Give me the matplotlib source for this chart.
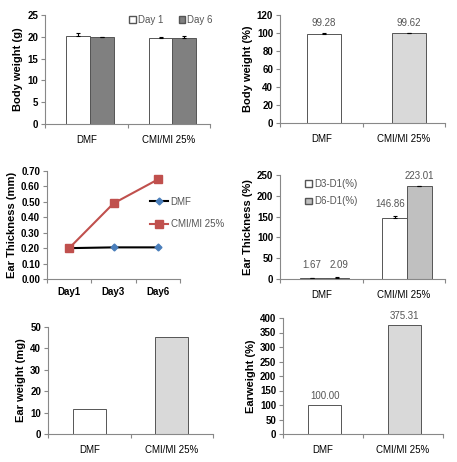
import matplotlib
matplotlib.use('Agg')
import matplotlib.pyplot as plt
import numpy as np
from matplotlib.patches import Patch
from matplotlib.lines import Line2D

plt.rcParams['font.family'] = ['Liberation Sans', 'DejaVu Sans']

# data
groups = ['DMF', 'CMI/MI 25%']
bw_day1 = [20.2, 19.8]
bw_day1_err = [0.6, 0.2]
bw_day6 = [19.9, 19.8]
bw_day6_err = [0.0, 0.4]
bw_pct = [99.28, 99.62]
bw_pct_err = [0.4, 0.0]
days = ['Day1', 'Day3', 'Day6']
et_dmf = [0.20, 0.205, 0.205]
et_cmi = [0.20, 0.49, 0.645]
et_d3 = [1.67, 146.86]
et_d3_err = [1.5, 4.0]
et_d6 = [2.09, 223.01]
et_d6_err = [3.5, 0.0]
ew_mg = [11.8, 45.5]
ew_pct = [100.00, 375.31]

W, H = 457, 462
fig = plt.figure(figsize=(W / 100, H / 100), dpi=100)


def make_ax(l, r, t, b):
    return fig.add_axes([l / W, 1 - b / H, (r - l) / W, (b - t) / H])


def style(ax, ylabel, ymax, ystep, fmt='{:.0f}', ncat=2):
    ax.set_xlim(0, ncat)
    ax.set_ylim(0, ymax)
    for s in ['top', 'right']:
        ax.spines[s].set_visible(False)
    for s in ['left', 'bottom']:
        ax.spines[s].set_color('#888888')
        ax.spines[s].set_linewidth(0.8)
    yt = np.arange(0, ymax + ystep / 2, ystep)
    ax.set_yticks(yt)
    ax.set_yticklabels([fmt.format(v) for v in yt], fontsize=7, fontweight='bold')
    ax.set_xticks(np.arange(0, ncat + 1))
    ax.set_xticklabels([])
    ax.set_xticks(np.arange(ncat) + 0.5, minor=True)
    ax.tick_params(axis='x', which='major', length=3, color='#888888', width=0.8)
    ax.tick_params(axis='x', which='minor', length=0, labelsize=7, pad=8)
    ax.tick_params(axis='y', length=3, color='#888888', width=0.8, pad=2)
    ax.set_ylabel(ylabel, fontsize=8, fontweight='bold', labelpad=3)


edge = '#555555'
ekw = dict(ecolor='black', elinewidth=0.8, capsize=1.5, capthick=0.8)

# Panel 1: body weight (g)
ax1 = make_ax(45, 210, 15, 124)
style(ax1, 'Body weight (g)', 25, 5)
x = np.array([0.5, 1.5])
ax1.bar(x - 0.1, bw_day1, width=0.29, yerr=[[0, 0], bw_day1_err], color='white',
        edgecolor=edge, linewidth=0.7, error_kw=ekw)
ax1.bar(x + 0.19, bw_day6, width=0.29, yerr=[[0, 0], bw_day6_err], color='#808080',
        edgecolor=edge, linewidth=0.7, error_kw=ekw)
ax1.set_xticks(x, minor=True)
ax1.set_xticklabels(groups, minor=True)
ax1.legend(handles=[Patch(facecolor='white', edgecolor=edge, label='Day 1'),
                    Patch(facecolor='#808080', edgecolor=edge, label='Day 6')],
           loc='upper right', bbox_to_anchor=(1.07, 1.08), ncol=2, frameon=False,
           fontsize=7, handlelength=0.7, handleheight=0.7, handletextpad=0.2,
           columnspacing=1.6, labelcolor='#555555')

# Panel 2: body weight (%)
ax2 = make_ax(280, 445, 15, 123)
style(ax2, 'Body weight (%)', 120, 20)
ax2.bar([0.53, 1.56], bw_pct, width=0.41, yerr=[[0, 0], bw_pct_err],
        color=['white', '#d9d9d9'], edgecolor=edge, linewidth=0.7, error_kw=ekw)
for xi, v in zip([0.53, 1.56], bw_pct):
    ax2.text(xi, v + 6, f'{v:.2f}', ha='center', va='bottom', fontsize=7, color='#555555')
ax2.set_xticklabels(groups, minor=True)

# Panel 3: ear thickness (mm)
ax3 = make_ax(47, 180, 171, 279)
style(ax3, 'Ear Thickness (mm)', 0.70, 0.10, fmt='{:.2f}', ncat=3)
xd = np.arange(3) + 0.5
ax3.plot(xd, et_dmf, color='black', linewidth=1.5, marker='D', markersize=3.5,
         markerfacecolor='#4a7ebb', markeredgecolor='#4a7ebb', label='DMF')
ax3.plot(xd, et_cmi, color='#c0504d', linewidth=1.5, marker='s', markersize=6,
         markerfacecolor='#c0504d', markeredgecolor='#c0504d', label='CMI/MI 25%')
ax3.set_xticklabels(days, minor=True, fontweight='bold')
ax3.tick_params(axis='x', which='minor', pad=6)
ax3.legend(loc='center left', bbox_to_anchor=(0.71, 0.61), frameon=False, fontsize=7,
           handlelength=1.8, labelspacing=1.3, labelcolor='#555555', handletextpad=0.3)

# Panel 4: ear thickness (%)
ax4 = make_ax(280, 445, 175, 279)
style(ax4, 'Ear Thickness (%)', 250, 50)
ax4.bar(x - 0.11, et_d3, width=0.3, yerr=[[0, 0], et_d3_err], color='white',
        edgecolor=edge, linewidth=0.7, error_kw=ekw)
ax4.bar(x + 0.19, et_d6, width=0.3, yerr=[[0, 0], et_d6_err], color='#c0c0c0',
        edgecolor=edge, linewidth=0.7, error_kw=ekw)
ax4.text(0.39, 22, f'{et_d3[0]:.2f}', ha='center', va='bottom', fontsize=7, color='#555555')
ax4.text(0.71, 22, f'{et_d6[0]:.2f}', ha='center', va='bottom', fontsize=7, color='#555555')
ax4.text(1.34, et_d3[1] + 22, f'{et_d3[1]:.2f}', ha='center', va='bottom', fontsize=7, color='#555555')
ax4.text(1.69, et_d6[1] + 12, f'{et_d6[1]:.2f}', ha='center', va='bottom', fontsize=7, color='#555555')
ax4.set_xticklabels(groups, minor=True)
ax4.legend(handles=[Patch(facecolor='white', edgecolor=edge, label='D3-D1(%)'),
                    Patch(facecolor='#c0c0c0', edgecolor=edge, label='D6-D1(%)')],
           loc='upper left', bbox_to_anchor=(0.1, 1.05), frameon=False, fontsize=7,
           handlelength=0.7, handleheight=0.7, handletextpad=0.2, labelspacing=0.8,
           labelcolor='#555555')

# Panel 5: ear weight (mg)
ax5 = make_ax(48, 213, 327, 434)
style(ax5, 'Ear weight (mg)', 50, 10)
ax5.bar(x, ew_mg, width=0.4, color=['white', '#d9d9d9'], edgecolor=edge, linewidth=0.7)
ax5.set_xticklabels(groups, minor=True)

# Panel 6: ear weight (%)
ax6 = make_ax(283, 443, 318, 434)
style(ax6, 'Earweight (%)', 400, 50)
ax6.bar(x + 0.02, ew_pct, width=0.42, color=['white', '#d9d9d9'], edgecolor=edge, linewidth=0.7)
for xi, v in zip(x + 0.02, ew_pct):
    ax6.text(xi, v + 15, f'{v:.2f}', ha='center', va='bottom', fontsize=7, color='#555555')
ax6.set_xticklabels(groups, minor=True)

fig.savefig('out.png', dpi=100)
